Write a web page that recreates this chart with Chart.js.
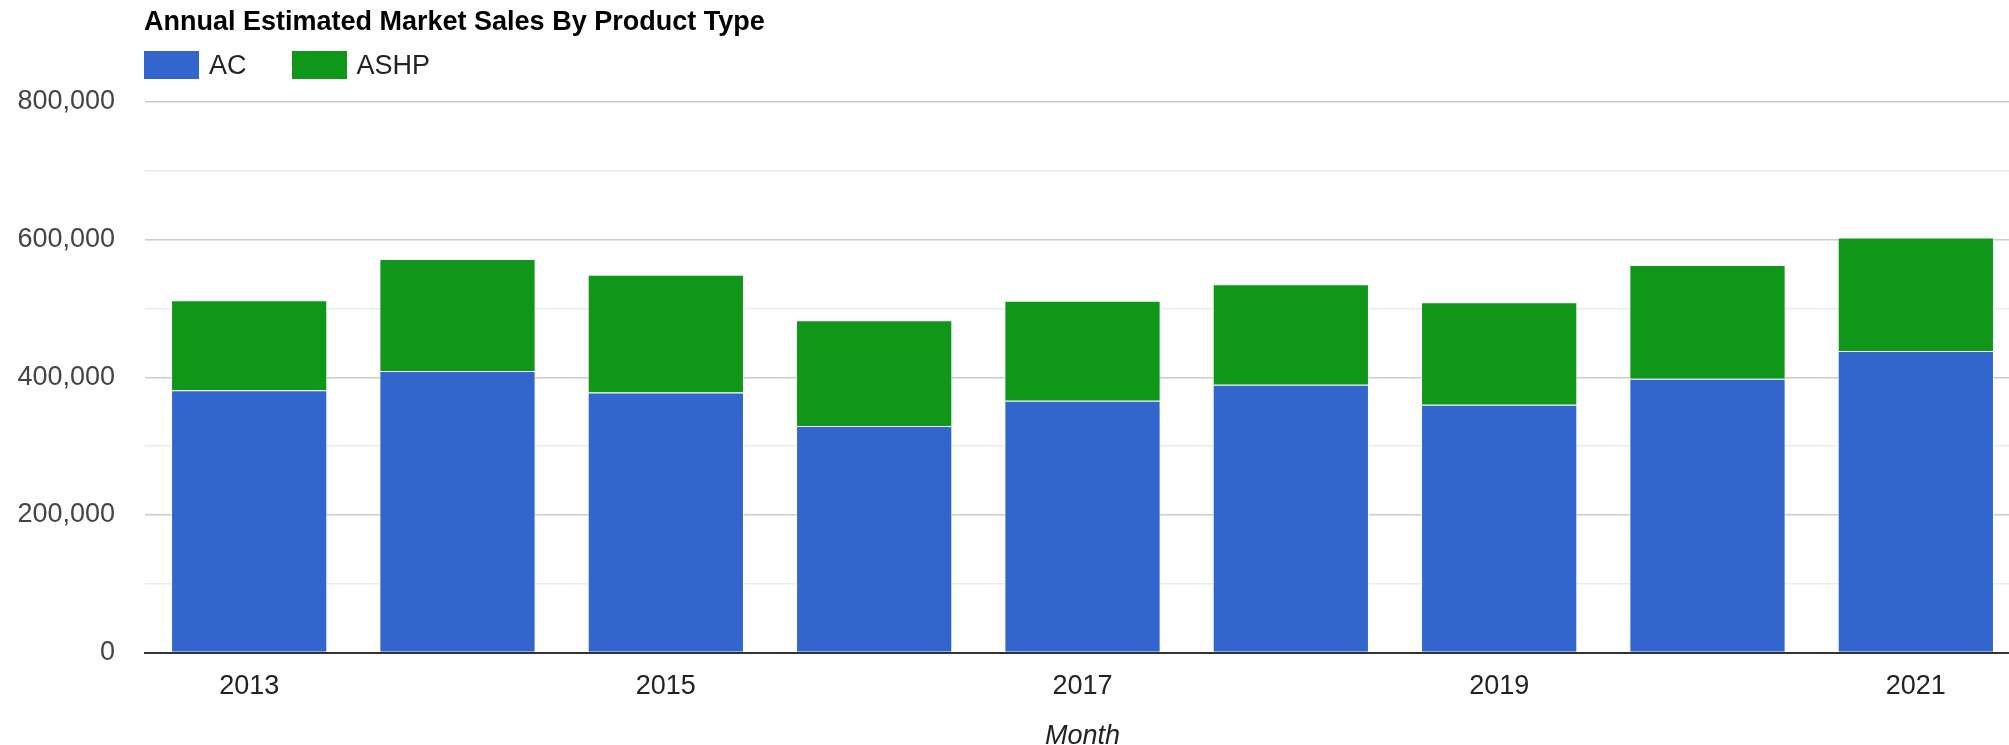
<!DOCTYPE html>
<html lang="en">
<head>
  <meta charset="UTF-8" />
  <title>Annual Estimated Market Sales By Product Type</title>
  <script src="https://cdn.jsdelivr.net/npm/chart.js"></script>
  <style>
    body { margin: 0; background: #fff; overflow: hidden; }
    .wrap { position: relative; width: 2009px; height: 745px; overflow: hidden; font-family: "Liberation Sans", Arial, sans-serif; }
    .chart-title { position: absolute; left: 144px; top: 8px; font-size: 27px; line-height: 27px; font-weight: bold; color: #000; white-space: nowrap; }
    .legend { position: absolute; left: 144px; top: 51px; display: flex; align-items: center; font-size: 27px; line-height: 27px; color: #222; }
    .legend .box { width: 55px; height: 28px; margin-right: 10px; }
    .legend .item { display: flex; align-items: center; margin-right: 45px; }
    canvas { position: absolute; left: 0; top: 0; }
  </style>
</head>
<body>
  <div class="wrap">
    <!-- canvas is a bit wider than the page: the plot runs past the right edge like the original -->
    <canvas id="salesChart" width="2020" height="745"></canvas>
    <div class="chart-title">Annual Estimated Market Sales By Product Type</div>
    <div class="legend" id="legend"></div>
  </div>

  <script>
const years = ['2013', '2014', '2015', '2016', '2017', '2018', '2019', '2020', '2021'];
const acSales = [381000, 409000, 378000, 329000, 366000, 389000, 360000, 398000, 438000];
const ashpSales = [131000, 163000, 171000, 154000, 145000, 146000, 149000, 165000, 165000];
const seriesNames = ['AC', 'ASHP'];
const seriesColors = ['#3366cc', '#109618'];
const yMax = 800000;
const yStep = 100000;
const xTitle = 'Month';

// legend
const legend = document.getElementById('legend');
seriesNames.forEach((name, i) => {
  const item = document.createElement('div');
  item.className = 'item';
  const box = document.createElement('span');
  box.className = 'box';
  box.style.background = seriesColors[i];
  const label = document.createElement('span');
  label.textContent = name;
  item.appendChild(box);
  item.appendChild(label);
  legend.appendChild(item);
});

const font = { family: '"Liberation Sans", Arial, sans-serif', size: 27 };

const ctx = document.getElementById('salesChart').getContext('2d');
new Chart(ctx, {
  type: 'bar',
  data: {
    labels: years,
    datasets: [
      { label: seriesNames[0], data: acSales, backgroundColor: seriesColors[0], borderColor: 'rgba(255,255,255,0.65)', borderWidth: 1 },
      { label: seriesNames[1], data: ashpSales, backgroundColor: seriesColors[1], borderColor: 'rgba(255,255,255,0.65)', borderWidth: 1 }
    ]
  },
  options: {
    responsive: false,
    animation: false,
    layout: { padding: { top: 102, right: 0, bottom: 0, left: 0 } },
    plugins: {
      legend: { display: false },
      tooltip: { enabled: false }
    },
    datasets: {
      bar: { categoryPercentage: 1.0, barPercentage: 0.75 }
    },
    scales: {
      x: {
        stacked: true,
        grid: { display: false, drawTicks: false },
        border: { display: true, color: '#333', width: 2 },
        ticks: {
          autoSkip: false,
          maxRotation: 0,
          padding: 18,
          color: '#222',
          font: font,
          callback: (val, i) => (i % 2 === 0 ? years[i] : '')
        },
        title: {
          display: true,
          text: xTitle,
          color: '#222',
          font: { family: font.family, size: 27, style: 'italic', lineHeight: 0.6 },
          padding: { top: 0, bottom: 0 }
        },
        afterFit: (scale) => { scale.height = 92.5; }
      },
      y: {
        stacked: true,
        min: 0,
        max: yMax,
        border: { display: false },
        grid: {
          drawTicks: false,
          color: (c) => (c.tick && c.tick.value % 200000 === 0 ? '#cccccc' : '#ebebeb'),
          lineWidth: 1.5
        },
        ticks: {
          stepSize: yStep,
          padding: 30,
          color: '#444',
          font: font,
          callback: (v) => (v % 200000 === 0 ? v.toLocaleString('en-US') : '')
        },
        afterFit: (scale) => { scale.width = 145; }
      }
    }
  }
});
  </script>
</body>
</html>
